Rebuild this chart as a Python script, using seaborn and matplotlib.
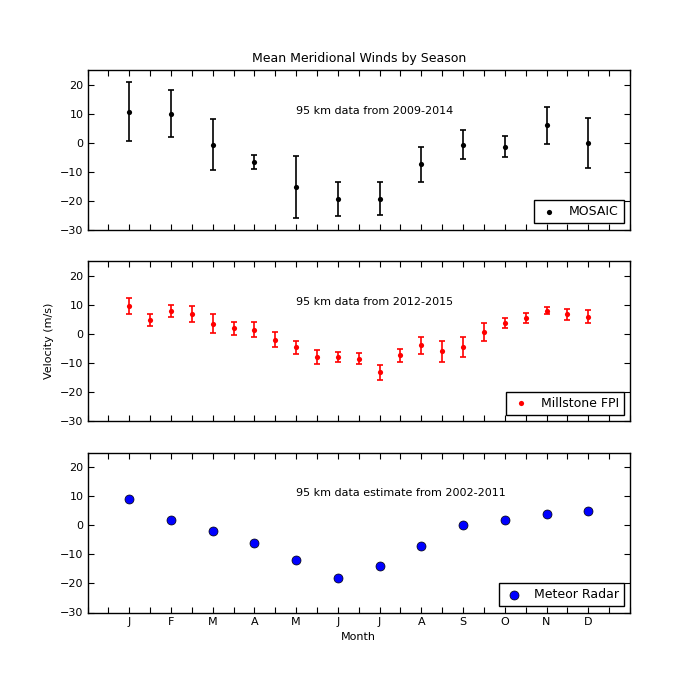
import numpy as np
import pandas as pd
import matplotlib
matplotlib.use("Agg")
import matplotlib.pyplot as plt
import seaborn as sns

months = ["J", "F", "M", "A", "M", "J", "J", "A", "S", "O", "N", "D"]
month_pos = list(range(1, 13))

mosaic_x = list(range(1, 13))
mosaic_v = [10.6, 9.9, -0.7, -6.8, -15.4, -19.4, -19.4, -7.5, -0.7, -1.4, 5.9, -0.1]
mosaic_err = [10.2, 8.1, 8.9, 2.35, 10.6, 5.85, 5.75, 6.0, 4.85, 3.5, 6.45, 8.7]

fpi_x = [1, 1.5, 2, 2.5, 3, 3.5, 4, 4.5, 5, 5.5, 6, 6.5, 7, 7.5, 8, 8.5, 9, 9.5, 10, 10.5, 11, 11.5, 12]
fpi_v = [9.5, 4.8, 8.0, 6.8, 3.5, 2.0, 1.5, -2.0, -4.6, -7.8, -8.0, -8.5, -13.2, -7.4, -3.9,
         -6.0, -4.4, 0.7, 3.7, 5.6, 8.0, 6.8, 6.0]
fpi_err = [2.75, 2.0, 2.0, 2.8, 3.3, 2.2, 2.7, 2.6, 2.3, 2.4, 1.75, 1.95, 2.65, 2.35, 3.0,
           3.7, 3.5, 3.2, 1.75, 1.65, 1.25, 1.85, 2.35]

radar_x = list(range(1, 13))
radar_v = [9, 2, -2, -6, -12, -18, -14, -7, 0, 2, 4, 5]

yticks = [-30, -20, -10, 0, 10, 20]

sns.set_style("white")
plt.rcParams["font.family"] = ["DejaVu Sans"]
plt.rcParams["text.color"] = "black"
plt.rcParams["axes.labelcolor"] = "black"
plt.rcParams["xtick.color"] = "black"
plt.rcParams["ytick.color"] = "black"

fig, axes = plt.subplots(3, 1, figsize=(7, 7), dpi=100, sharex=True)
fig.subplots_adjust(left=0.125, right=0.9, top=0.9, bottom=0.125, hspace=0.2)

df_m = pd.DataFrame({"x": mosaic_x, "v": mosaic_v})
df_f = pd.DataFrame({"x": fpi_x, "v": fpi_v})
df_r = pd.DataFrame({"x": radar_x, "v": radar_v})

ax = axes[0]
ax.errorbar(mosaic_x, mosaic_v, yerr=mosaic_err, fmt="none", ecolor="black",
            elinewidth=1.2, capsize=2.5, capthick=1.2)
sns.scatterplot(data=df_m, x="x", y="v", ax=ax, color="black", s=14,
                edgecolor="black", linewidth=0, label="MOSAIC", zorder=3)
ax.text(5, 10, "95 km data from 2009-2014", fontsize=8)
ax.set_title("Mean Meridional Winds by Season", fontsize=9)

ax = axes[1]
ax.errorbar(fpi_x, fpi_v, yerr=fpi_err, fmt="none", ecolor="red",
            elinewidth=1.2, capsize=2.5, capthick=1.2)
sns.scatterplot(data=df_f, x="x", y="v", ax=ax, color="red", s=14,
                edgecolor="red", linewidth=0, label="Millstone FPI", zorder=3)
ax.text(5, 10, "95 km data from 2012-2015", fontsize=8)

ax = axes[2]
sns.scatterplot(data=df_r, x="x", y="v", ax=ax, color="blue", s=42,
                edgecolor="black", linewidth=0.5, label="Meteor Radar", zorder=3)
ax.text(5, 10, "95 km data estimate from 2002-2011", fontsize=8)

for i, ax in enumerate(axes):
    ax.set_xlim(0, 13)
    ax.set_ylim(-30, 25)
    ax.set_yticks(yticks)
    ax.set_xticks(month_pos)
    ax.set_xticks([0, 0.5] + [p + 0.5 for p in month_pos] + [13], minor=True)
    ax.tick_params(axis="both", which="both", direction="in", length=4, width=0.8,
                   top=True, right=True, bottom=True, left=True, labelsize=8, pad=3)
    for s in ax.spines.values():
        s.set_color("black")
        s.set_linewidth(1.0)
    ax.set_xlabel("")
    ax.set_ylabel("")
    if i < 2:
        ax.tick_params(labelbottom=False)
    else:
        ax.set_xticklabels(months)
    leg = ax.legend(loc="lower right", fontsize=9, frameon=True, fancybox=False,
                    framealpha=1, edgecolor="black", borderaxespad=0.5,
                    handletextpad=0.8, borderpad=0.4, handlelength=1.6)
    leg.get_frame().set_linewidth(1.0)

axes[1].set_ylabel("Velocity (m/s)", fontsize=8)
axes[2].set_xlabel("Month", fontsize=8)

fig.savefig("out.png", dpi=100)
